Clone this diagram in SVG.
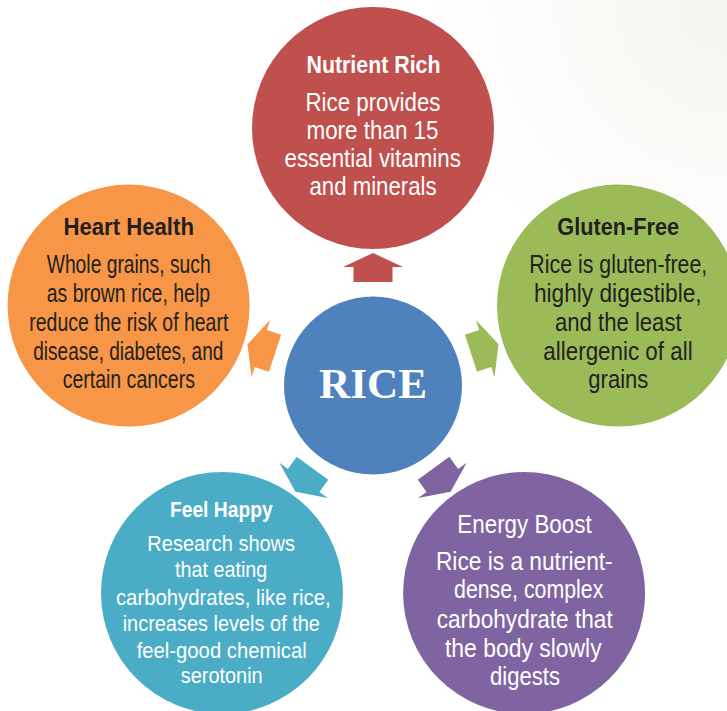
<svg xmlns="http://www.w3.org/2000/svg" width="727" height="711" viewBox="0 0 727 711">
  <defs>
    <radialGradient id="cornerTint" cx="727" cy="0" r="300" gradientUnits="userSpaceOnUse">
      <stop offset="0" stop-color="#f6f4ef"/>
      <stop offset="1" stop-color="#ffffff"/>
    </radialGradient>
    <!-- block arrow pointing up, placed between the hub and the top node -->
    <polygon id="arrow" points="373,253 403,267 392.5,267 392.5,282 353.5,282 353.5,267 343,267"/>
    <style>
      text { font-family: "Liberation Sans Narrow", "Liberation Sans", Arial, sans-serif; text-anchor: middle; }
      .head { font-weight: bold; font-size: 24px; }
      .body { font-size: 25px; }
      .small { font-size: 22.5px; }
      .light { fill: #ffffff; }
      .dark { fill: #231f20; }
      .hub { font-family: "Liberation Serif", "Times New Roman", serif; font-weight: bold; font-size: 43px; fill: #ffffff; }
    </style>
  </defs>

  <rect width="727" height="711" fill="url(#cornerTint)"/>

  <!-- arrows from the hub toward each benefit -->
  <g id="connectors">
    <use href="#arrow" fill="#c0504d"/>
    <use href="#arrow" fill="#9bbb59" transform="rotate(72 373 385)"/>
    <use href="#arrow" fill="#8064a2" transform="rotate(144 373 385)"/>
    <use href="#arrow" fill="#4bacc6" transform="rotate(-144 373 385)"/>
    <use href="#arrow" fill="#f79646" transform="rotate(-72 373 385)"/>
  </g>

  <g id="node-rice">
    <circle cx="373" cy="385.5" r="89" fill="#4f81bd"/>
    <text class="hub" x="373" y="398" textLength="108" lengthAdjust="spacingAndGlyphs">RICE</text>
  </g>

  <g id="node-nutrient-rich">
    <circle cx="373" cy="128" r="121" fill="#c0504d"/>
    <text class="head light" x="373.5" y="72.5" textLength="134" lengthAdjust="spacingAndGlyphs">Nutrient Rich</text>
    <text class="body light" x="373" y="110.5" textLength="135" lengthAdjust="spacingAndGlyphs">Rice provides</text>
    <text class="body light" x="372.5" y="139" textLength="132" lengthAdjust="spacingAndGlyphs">more than 15</text>
    <text class="body light" x="372.7" y="167" textLength="176.5" lengthAdjust="spacingAndGlyphs">essential vitamins</text>
    <text class="body light" x="373" y="195" textLength="127" lengthAdjust="spacingAndGlyphs">and minerals</text>
  </g>

  <g id="node-heart-health">
    <circle cx="128.6" cy="305.6" r="121" fill="#f79646"/>
    <text class="head dark" x="128.7" y="235" textLength="130.5" lengthAdjust="spacingAndGlyphs">Heart Health</text>
    <text class="body dark" x="128.7" y="272.7" textLength="164" lengthAdjust="spacingAndGlyphs">Whole grains, such</text>
    <text class="body dark" x="128.4" y="301.7" textLength="163.3" lengthAdjust="spacingAndGlyphs">as brown rice, help</text>
    <text class="body dark" x="128.8" y="330.5" textLength="199" lengthAdjust="spacingAndGlyphs">reduce the risk of heart</text>
    <text class="body dark" x="128.3" y="359.5" textLength="190" lengthAdjust="spacingAndGlyphs">disease, diabetes, and</text>
    <text class="body dark" x="128.8" y="388.3" textLength="132.3" lengthAdjust="spacingAndGlyphs">certain cancers</text>
  </g>

  <g id="node-gluten-free">
    <circle cx="618" cy="305.6" r="121" fill="#9bbb59"/>
    <text class="head dark" x="618.2" y="235" textLength="121.7" lengthAdjust="spacingAndGlyphs">Gluten-Free</text>
    <text class="body dark" x="618.3" y="272.7" textLength="178" lengthAdjust="spacingAndGlyphs">Rice is gluten-free,</text>
    <text class="body dark" x="617.8" y="301.7" textLength="167.7" lengthAdjust="spacingAndGlyphs">highly digestible,</text>
    <text class="body dark" x="618.3" y="330.5" textLength="126.7" lengthAdjust="spacingAndGlyphs">and the least</text>
    <text class="body dark" x="618" y="359.5" textLength="149.3" lengthAdjust="spacingAndGlyphs">allergenic of all</text>
    <text class="body dark" x="618.3" y="388.3" textLength="60" lengthAdjust="spacingAndGlyphs">grains</text>
  </g>

  <g id="node-feel-happy">
    <circle cx="222" cy="593" r="121" fill="#4bacc6"/>
    <text class="head light" x="221.3" y="517.3" style="font-size:22px" textLength="102.7" lengthAdjust="spacingAndGlyphs">Feel Happy</text>
    <text class="small light" x="221.2" y="551" textLength="147.7" lengthAdjust="spacingAndGlyphs">Research shows</text>
    <text class="small light" x="221.2" y="577.3" textLength="92.3" lengthAdjust="spacingAndGlyphs">that eating</text>
    <text class="small light" x="223.3" y="605" textLength="214.7" lengthAdjust="spacingAndGlyphs">carbohydrates, like rice,</text>
    <text class="small light" x="221.3" y="630.7" textLength="197.3" lengthAdjust="spacingAndGlyphs">increases levels of the</text>
    <text class="small light" x="221.7" y="658.3" textLength="170" lengthAdjust="spacingAndGlyphs">feel-good chemical</text>
    <text class="small light" x="221.7" y="682.7" textLength="82" lengthAdjust="spacingAndGlyphs">serotonin</text>
  </g>

  <g id="node-energy-boost">
    <circle cx="524.1" cy="593" r="121" fill="#8064a2"/>
    <text class="body light" x="524.5" y="532.7" textLength="134.3" lengthAdjust="spacingAndGlyphs">Energy Boost</text>
    <text class="body light" x="524.3" y="570" textLength="176.7" lengthAdjust="spacingAndGlyphs">Rice is a nutrient-</text>
    <text class="body light" x="528.7" y="598.3" textLength="149.3" lengthAdjust="spacingAndGlyphs">dense, complex</text>
    <text class="body light" x="524.7" y="628.3" textLength="176" lengthAdjust="spacingAndGlyphs">carbohydrate that</text>
    <text class="body light" x="523.3" y="656.7" textLength="156.7" lengthAdjust="spacingAndGlyphs">the body slowly</text>
    <text class="body light" x="525" y="685" textLength="70" lengthAdjust="spacingAndGlyphs">digests</text>
  </g>
</svg>
